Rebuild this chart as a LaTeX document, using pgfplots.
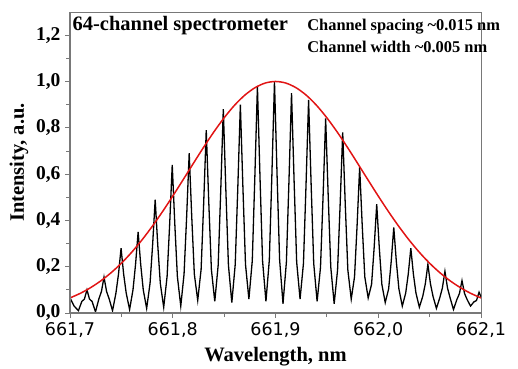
\documentclass[border=0pt]{standalone}
\usepackage{pgfplots}
\pgfplotsset{compat=1.18}
\usepackage{fontspec}
\setmainfont{Liberation Serif}
\newfontfamily\dejavu{DejaVu Sans}
\definecolor{envred}{RGB}{225,20,20}
\definecolor{axgray}{RGB}{120,120,120}
\begin{document}
\begin{tikzpicture}
\begin{axis}[
  scale only axis,
  width=411pt, height=301pt,
  xmin=661.7, xmax=662.1,
  ymin=0, ymax=1.3,
  clip mode=individual,
  xtick={661.7,661.8,661.9,662.0,662.1},
  xticklabels={{661,7},{661,8},{661,9},{662,0},{662,1}},
  ytick={0,0.2,0.4,0.6,0.8,1.0,1.2},
  yticklabels={{0,0},{0,2},{0,4},{0,6},{0,8},{1,0},{1,2}},
  minor x tick num=1,
  minor y tick num=1,
  xtick pos=bottom, ytick pos=left,
  tick align=outside,
  major tick length=5pt, minor tick length=4pt,
  tick style={axgray, line width=0.8pt},
  axis line style={axgray, line width=0.7pt},
  x tick label style={font=\dejavu\fontsize{17.5}{20}\selectfont, yshift=-1pt},
  y tick label style={font=\bfseries\fontsize{19.5}{22}\selectfont, xshift=-1pt},
  xlabel={Wavelength, nm},
  ylabel={Intensity, a.u.},
  xlabel style={font=\bfseries\fontsize{20.5}{23}\selectfont, at={(rel axis cs:0.5,0)}, anchor=center, yshift=-44pt},
  ylabel style={font=\bfseries\fontsize{20.5}{23}\selectfont, at={(rel axis cs:0,0.5)}, anchor=center, yshift=51pt},
]
\addplot[black, line width=1.3pt] coordinates {
(661.7000,0.065) (661.7040,0.030) (661.7082,0.010)
(661.7115,0.050) (661.7140,0.060) (661.7165,0.100) (661.7190,0.060) (661.7215,0.050) (661.7248,0.005)
(661.7281,0.061) (661.7306,0.093) (661.7331,0.155) (661.7356,0.093) (661.7381,0.061) (661.7414,0.010)
(661.7447,0.086) (661.7472,0.168) (661.7497,0.280) (661.7522,0.168) (661.7547,0.086) (661.7580,0.015)
(661.7613,0.100) (661.7638,0.210) (661.7663,0.350) (661.7688,0.210) (661.7713,0.100) (661.7746,0.020)
(661.7779,0.128) (661.7804,0.294) (661.7829,0.490) (661.7854,0.294) (661.7879,0.128) (661.7912,0.025)
(661.7945,0.158) (661.7970,0.384) (661.7995,0.640) (661.8020,0.384) (661.8045,0.158) (661.8078,0.030)
(661.8110,0.168) (661.8135,0.414) (661.8160,0.690) (661.8185,0.414) (661.8210,0.168) (661.8243,0.055)
(661.8276,0.188) (661.8301,0.474) (661.8326,0.790) (661.8351,0.474) (661.8376,0.188) (661.8409,0.050)
(661.8442,0.206) (661.8467,0.528) (661.8492,0.880) (661.8517,0.528) (661.8542,0.206) (661.8575,0.045)
(661.8608,0.210) (661.8633,0.540) (661.8658,0.900) (661.8683,0.540) (661.8708,0.210) (661.8741,0.060)
(661.8774,0.226) (661.8799,0.588) (661.8824,0.980) (661.8849,0.588) (661.8874,0.226) (661.8907,0.050)
(661.8940,0.230) (661.8965,0.600) (661.8990,1.000) (661.9015,0.600) (661.9040,0.230) (661.9073,0.040)
(661.9106,0.220) (661.9131,0.570) (661.9156,0.950) (661.9181,0.570) (661.9206,0.220) (661.9239,0.060)
(661.9272,0.214) (661.9297,0.552) (661.9322,0.920) (661.9347,0.552) (661.9372,0.214) (661.9405,0.050)
(661.9438,0.198) (661.9463,0.504) (661.9488,0.840) (661.9513,0.504) (661.9538,0.198) (661.9571,0.040)
(661.9604,0.186) (661.9629,0.468) (661.9654,0.780) (661.9679,0.468) (661.9704,0.186) (661.9737,0.060)
(661.9769,0.156) (661.9794,0.378) (661.9819,0.630) (661.9844,0.378) (661.9869,0.156) (661.9902,0.065)
(661.9935,0.124) (661.9960,0.282) (661.9985,0.470) (662.0010,0.282) (662.0035,0.124) (662.0068,0.045)
(662.0101,0.104) (662.0126,0.222) (662.0151,0.370) (662.0176,0.222) (662.0201,0.104) (662.0234,0.030)
(662.0267,0.086) (662.0292,0.168) (662.0317,0.280) (662.0342,0.168) (662.0367,0.086) (662.0400,0.025)
(662.0433,0.072) (662.0458,0.126) (662.0483,0.210) (662.0508,0.126) (662.0533,0.072) (662.0566,0.020)
(662.0599,0.066) (662.0624,0.108) (662.0649,0.180) (662.0674,0.108) (662.0699,0.066) (662.0732,0.015)
(662.0765,0.058) (662.0790,0.084) (662.0815,0.140) (662.0840,0.084) (662.0865,0.058) (662.0898,0.030)
(662.0931,0.048) (662.0956,0.054) (662.0981,0.090) (662.1000,0.070)
};
\addplot[envred, line width=1.5pt, smooth] coordinates {
(661.70,0.0651) (661.71,0.0849) (661.72,0.1094) (661.73,0.1389) (661.74,0.1740)
(661.75,0.2150) (661.76,0.2622) (661.77,0.3153) (661.78,0.3740) (661.79,0.4376)
(661.80,0.5051) (661.81,0.5750) (661.82,0.6458) (661.83,0.7156) (661.84,0.7820)
(661.85,0.8430) (661.86,0.8965) (661.87,0.9404) (661.88,0.9730) (661.89,0.9932)
(661.90,1.0000) (661.91,0.9932) (661.92,0.9730) (661.93,0.9404) (661.94,0.8965)
(661.95,0.8430) (661.96,0.7820) (661.97,0.7156) (661.98,0.6458) (661.99,0.5750)
(662.00,0.5051) (662.01,0.4376) (662.02,0.3740) (662.03,0.3153) (662.04,0.2622)
(662.05,0.2150) (662.06,0.1740) (662.07,0.1389) (662.08,0.1094) (662.09,0.0849)
(662.10,0.0651)
};
\draw[axgray, line width=1.6pt] (rel axis cs:0,1) -- (rel axis cs:0,0) -- (rel axis cs:1,0);
\node[anchor=base west, inner sep=0pt, font=\bfseries\fontsize{20.5}{23}\selectfont] at (rel axis cs:0.006,0.940) {64-channel spectrometer};
\node[anchor=base west, inner sep=0pt, font=\bfseries\fontsize{16.4}{19}\selectfont] at (rel axis cs:0.577,0.940) {Channel spacing \textasciitilde0.015 nm};
\node[anchor=base west, inner sep=0pt, font=\bfseries\fontsize{16.4}{19}\selectfont] at (rel axis cs:0.577,0.867) {Channel width \textasciitilde0.005 nm};
\end{axis}
\pgfresetboundingbox
\path[use as bounding box] (-70pt,-55pt) rectangle (448pt,313pt);
\end{tikzpicture}
\end{document}
